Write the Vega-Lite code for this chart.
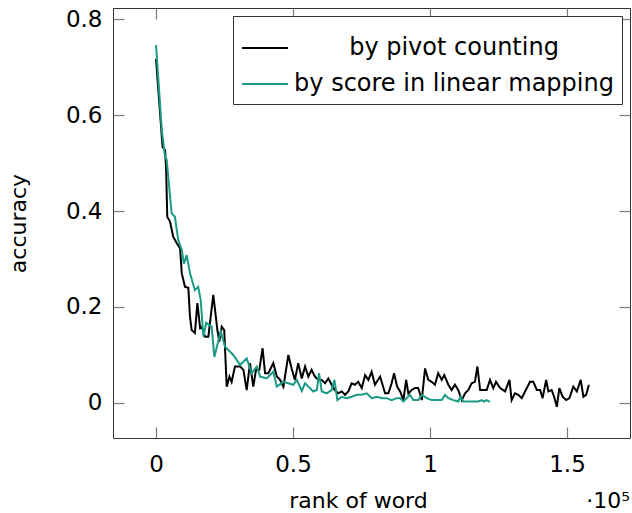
{
  "$schema": "https://vega.github.io/schema/vega-lite/v6.json",
  "width": 517,
  "height": 430,
  "autosize": "none",
  "padding": {"left": 113, "top": 8, "right": 2, "bottom": 75},
  "config": {
    "font": "DejaVu Sans",
    "view": {"stroke": "#333333", "strokeWidth": 1},
    "axis": {"grid": false, "domain": true, "domainOpacity": 0, "tickColor": "#7a7a7a", "tickSize": 11, "tickWidth": 1.2, "offset": -11, "labelFont": "DejaVu Sans", "titleFont": "DejaVu Sans", "labelFontSize": 23, "titleFontSize": 22, "labelColor": "#000", "titleColor": "#000", "titleFontWeight": "normal"}
  },
  "data": {"values": [
    {"method": "by pivot counting", "rank": 0, "accuracy": 0.717},
    {"method": "by pivot counting", "rank": 2400, "accuracy": 0.533},
    {"method": "by pivot counting", "rank": 3300, "accuracy": 0.527},
    {"method": "by pivot counting", "rank": 3700, "accuracy": 0.485},
    {"method": "by pivot counting", "rank": 4100, "accuracy": 0.388},
    {"method": "by pivot counting", "rank": 5100, "accuracy": 0.378},
    {"method": "by pivot counting", "rank": 6300, "accuracy": 0.346},
    {"method": "by pivot counting", "rank": 7600, "accuracy": 0.333},
    {"method": "by pivot counting", "rank": 8800, "accuracy": 0.322},
    {"method": "by pivot counting", "rank": 9400, "accuracy": 0.27},
    {"method": "by pivot counting", "rank": 10600, "accuracy": 0.242},
    {"method": "by pivot counting", "rank": 11800, "accuracy": 0.24},
    {"method": "by pivot counting", "rank": 12400, "accuracy": 0.18},
    {"method": "by pivot counting", "rank": 13000, "accuracy": 0.152},
    {"method": "by pivot counting", "rank": 14200, "accuracy": 0.146},
    {"method": "by pivot counting", "rank": 15100, "accuracy": 0.208},
    {"method": "by pivot counting", "rank": 16100, "accuracy": 0.156},
    {"method": "by pivot counting", "rank": 16700, "accuracy": 0.159},
    {"method": "by pivot counting", "rank": 17900, "accuracy": 0.138},
    {"method": "by pivot counting", "rank": 19100, "accuracy": 0.138},
    {"method": "by pivot counting", "rank": 20900, "accuracy": 0.225},
    {"method": "by pivot counting", "rank": 22400, "accuracy": 0.152},
    {"method": "by pivot counting", "rank": 23100, "accuracy": 0.128},
    {"method": "by pivot counting", "rank": 24000, "accuracy": 0.159},
    {"method": "by pivot counting", "rank": 24900, "accuracy": 0.152},
    {"method": "by pivot counting", "rank": 25800, "accuracy": 0.034},
    {"method": "by pivot counting", "rank": 26800, "accuracy": 0.055},
    {"method": "by pivot counting", "rank": 27600, "accuracy": 0.044},
    {"method": "by pivot counting", "rank": 28800, "accuracy": 0.076},
    {"method": "by pivot counting", "rank": 30700, "accuracy": 0.076},
    {"method": "by pivot counting", "rank": 31900, "accuracy": 0.069},
    {"method": "by pivot counting", "rank": 33100, "accuracy": 0.027},
    {"method": "by pivot counting", "rank": 34300, "accuracy": 0.083},
    {"method": "by pivot counting", "rank": 35500, "accuracy": 0.034},
    {"method": "by pivot counting", "rank": 36500, "accuracy": 0.069},
    {"method": "by pivot counting", "rank": 37700, "accuracy": 0.069},
    {"method": "by pivot counting", "rank": 38900, "accuracy": 0.114},
    {"method": "by pivot counting", "rank": 39800, "accuracy": 0.062},
    {"method": "by pivot counting", "rank": 41000, "accuracy": 0.062},
    {"method": "by pivot counting", "rank": 42800, "accuracy": 0.083},
    {"method": "by pivot counting", "rank": 44100, "accuracy": 0.055},
    {"method": "by pivot counting", "rank": 45300, "accuracy": 0.048},
    {"method": "by pivot counting", "rank": 46500, "accuracy": 0.034},
    {"method": "by pivot counting", "rank": 48300, "accuracy": 0.1},
    {"method": "by pivot counting", "rank": 49500, "accuracy": 0.072},
    {"method": "by pivot counting", "rank": 50700, "accuracy": 0.048},
    {"method": "by pivot counting", "rank": 51900, "accuracy": 0.083},
    {"method": "by pivot counting", "rank": 53200, "accuracy": 0.051},
    {"method": "by pivot counting", "rank": 54400, "accuracy": 0.076},
    {"method": "by pivot counting", "rank": 55600, "accuracy": 0.055},
    {"method": "by pivot counting", "rank": 56800, "accuracy": 0.069},
    {"method": "by pivot counting", "rank": 58000, "accuracy": 0.055},
    {"method": "by pivot counting", "rank": 59200, "accuracy": 0.048},
    {"method": "by pivot counting", "rank": 60500, "accuracy": 0.048},
    {"method": "by pivot counting", "rank": 61700, "accuracy": 0.041},
    {"method": "by pivot counting", "rank": 62900, "accuracy": 0.051},
    {"method": "by pivot counting", "rank": 64100, "accuracy": 0.038},
    {"method": "by pivot counting", "rank": 65300, "accuracy": 0.027},
    {"method": "by pivot counting", "rank": 66500, "accuracy": 0.02},
    {"method": "by pivot counting", "rank": 67800, "accuracy": 0.024},
    {"method": "by pivot counting", "rank": 69000, "accuracy": 0.017},
    {"method": "by pivot counting", "rank": 70200, "accuracy": 0.024},
    {"method": "by pivot counting", "rank": 71400, "accuracy": 0.041},
    {"method": "by pivot counting", "rank": 72600, "accuracy": 0.038},
    {"method": "by pivot counting", "rank": 73800, "accuracy": 0.044},
    {"method": "by pivot counting", "rank": 75100, "accuracy": 0.031},
    {"method": "by pivot counting", "rank": 76300, "accuracy": 0.058},
    {"method": "by pivot counting", "rank": 77500, "accuracy": 0.048},
    {"method": "by pivot counting", "rank": 78700, "accuracy": 0.065},
    {"method": "by pivot counting", "rank": 79900, "accuracy": 0.038},
    {"method": "by pivot counting", "rank": 81800, "accuracy": 0.055},
    {"method": "by pivot counting", "rank": 83600, "accuracy": 0.02},
    {"method": "by pivot counting", "rank": 84800, "accuracy": 0.02},
    {"method": "by pivot counting", "rank": 86000, "accuracy": 0.041},
    {"method": "by pivot counting", "rank": 86900, "accuracy": 0.062},
    {"method": "by pivot counting", "rank": 88000, "accuracy": 0.034},
    {"method": "by pivot counting", "rank": 89100, "accuracy": 0.024},
    {"method": "by pivot counting", "rank": 90300, "accuracy": 0.006},
    {"method": "by pivot counting", "rank": 91300, "accuracy": 0.048},
    {"method": "by pivot counting", "rank": 92100, "accuracy": 0.02},
    {"method": "by pivot counting", "rank": 93300, "accuracy": 0.027},
    {"method": "by pivot counting", "rank": 94500, "accuracy": 0.031},
    {"method": "by pivot counting", "rank": 95700, "accuracy": 0.031},
    {"method": "by pivot counting", "rank": 97000, "accuracy": 0.006},
    {"method": "by pivot counting", "rank": 98200, "accuracy": 0.072},
    {"method": "by pivot counting", "rank": 99400, "accuracy": 0.048},
    {"method": "by pivot counting", "rank": 100600, "accuracy": 0.044},
    {"method": "by pivot counting", "rank": 101800, "accuracy": 0.038},
    {"method": "by pivot counting", "rank": 103000, "accuracy": 0.062},
    {"method": "by pivot counting", "rank": 104300, "accuracy": 0.048},
    {"method": "by pivot counting", "rank": 105200, "accuracy": 0.058},
    {"method": "by pivot counting", "rank": 106700, "accuracy": 0.038},
    {"method": "by pivot counting", "rank": 107900, "accuracy": 0.027},
    {"method": "by pivot counting", "rank": 109100, "accuracy": 0.038},
    {"method": "by pivot counting", "rank": 110300, "accuracy": 0.027},
    {"method": "by pivot counting", "rank": 111600, "accuracy": 0.006},
    {"method": "by pivot counting", "rank": 112800, "accuracy": 0.02},
    {"method": "by pivot counting", "rank": 114000, "accuracy": 0.027},
    {"method": "by pivot counting", "rank": 115200, "accuracy": 0.041},
    {"method": "by pivot counting", "rank": 116400, "accuracy": 0.044},
    {"method": "by pivot counting", "rank": 117300, "accuracy": 0.076},
    {"method": "by pivot counting", "rank": 118300, "accuracy": 0.027},
    {"method": "by pivot counting", "rank": 119500, "accuracy": 0.027},
    {"method": "by pivot counting", "rank": 120700, "accuracy": 0.027},
    {"method": "by pivot counting", "rank": 121900, "accuracy": 0.048},
    {"method": "by pivot counting", "rank": 123100, "accuracy": 0.031},
    {"method": "by pivot counting", "rank": 124100, "accuracy": 0.044},
    {"method": "by pivot counting", "rank": 125600, "accuracy": 0.031},
    {"method": "by pivot counting", "rank": 127400, "accuracy": 0.024},
    {"method": "by pivot counting", "rank": 129000, "accuracy": 0.048},
    {"method": "by pivot counting", "rank": 129800, "accuracy": 0.006},
    {"method": "by pivot counting", "rank": 131000, "accuracy": 0.02},
    {"method": "by pivot counting", "rank": 132200, "accuracy": 0.017},
    {"method": "by pivot counting", "rank": 133500, "accuracy": 0.01},
    {"method": "by pivot counting", "rank": 134700, "accuracy": 0.024},
    {"method": "by pivot counting", "rank": 136500, "accuracy": 0.044},
    {"method": "by pivot counting", "rank": 137700, "accuracy": 0.044},
    {"method": "by pivot counting", "rank": 139000, "accuracy": 0.027},
    {"method": "by pivot counting", "rank": 140200, "accuracy": 0.027},
    {"method": "by pivot counting", "rank": 141100, "accuracy": 0.01},
    {"method": "by pivot counting", "rank": 142400, "accuracy": 0.048},
    {"method": "by pivot counting", "rank": 143200, "accuracy": 0.024},
    {"method": "by pivot counting", "rank": 144400, "accuracy": 0.027},
    {"method": "by pivot counting", "rank": 145300, "accuracy": 0.013},
    {"method": "by pivot counting", "rank": 146300, "accuracy": -0.008},
    {"method": "by pivot counting", "rank": 147200, "accuracy": 0.031},
    {"method": "by pivot counting", "rank": 148400, "accuracy": 0.013},
    {"method": "by pivot counting", "rank": 149700, "accuracy": 0.006},
    {"method": "by pivot counting", "rank": 150900, "accuracy": 0.01},
    {"method": "by pivot counting", "rank": 152300, "accuracy": 0.034},
    {"method": "by pivot counting", "rank": 153600, "accuracy": 0.024},
    {"method": "by pivot counting", "rank": 155000, "accuracy": 0.048},
    {"method": "by pivot counting", "rank": 156000, "accuracy": 0.013},
    {"method": "by pivot counting", "rank": 157000, "accuracy": 0.017},
    {"method": "by pivot counting", "rank": 158000, "accuracy": 0.038},
    {"method": "by score in linear mapping", "rank": 0, "accuracy": 0.746},
    {"method": "by score in linear mapping", "rank": 2100, "accuracy": 0.569},
    {"method": "by score in linear mapping", "rank": 3300, "accuracy": 0.513},
    {"method": "by score in linear mapping", "rank": 3900, "accuracy": 0.506},
    {"method": "by score in linear mapping", "rank": 5700, "accuracy": 0.395},
    {"method": "by score in linear mapping", "rank": 6900, "accuracy": 0.388},
    {"method": "by score in linear mapping", "rank": 8100, "accuracy": 0.34},
    {"method": "by score in linear mapping", "rank": 9400, "accuracy": 0.319},
    {"method": "by score in linear mapping", "rank": 10200, "accuracy": 0.29},
    {"method": "by score in linear mapping", "rank": 11200, "accuracy": 0.308},
    {"method": "by score in linear mapping", "rank": 12400, "accuracy": 0.27},
    {"method": "by score in linear mapping", "rank": 14200, "accuracy": 0.235},
    {"method": "by score in linear mapping", "rank": 15400, "accuracy": 0.242},
    {"method": "by score in linear mapping", "rank": 16300, "accuracy": 0.215},
    {"method": "by score in linear mapping", "rank": 17300, "accuracy": 0.138},
    {"method": "by score in linear mapping", "rank": 18300, "accuracy": 0.167},
    {"method": "by score in linear mapping", "rank": 20300, "accuracy": 0.159},
    {"method": "by score in linear mapping", "rank": 21300, "accuracy": 0.096},
    {"method": "by score in linear mapping", "rank": 23600, "accuracy": 0.149},
    {"method": "by score in linear mapping", "rank": 25200, "accuracy": 0.117},
    {"method": "by score in linear mapping", "rank": 28200, "accuracy": 0.1},
    {"method": "by score in linear mapping", "rank": 30700, "accuracy": 0.079},
    {"method": "by score in linear mapping", "rank": 33100, "accuracy": 0.093},
    {"method": "by score in linear mapping", "rank": 34900, "accuracy": 0.062},
    {"method": "by score in linear mapping", "rank": 36800, "accuracy": 0.076},
    {"method": "by score in linear mapping", "rank": 38000, "accuracy": 0.055},
    {"method": "by score in linear mapping", "rank": 40400, "accuracy": 0.051},
    {"method": "by score in linear mapping", "rank": 42800, "accuracy": 0.065},
    {"method": "by score in linear mapping", "rank": 44100, "accuracy": 0.034},
    {"method": "by score in linear mapping", "rank": 46500, "accuracy": 0.044},
    {"method": "by score in linear mapping", "rank": 48300, "accuracy": 0.041},
    {"method": "by score in linear mapping", "rank": 50100, "accuracy": 0.038},
    {"method": "by score in linear mapping", "rank": 51400, "accuracy": 0.048},
    {"method": "by score in linear mapping", "rank": 53200, "accuracy": 0.025},
    {"method": "by score in linear mapping", "rank": 54400, "accuracy": 0.041},
    {"method": "by score in linear mapping", "rank": 56200, "accuracy": 0.031},
    {"method": "by score in linear mapping", "rank": 57400, "accuracy": 0.024},
    {"method": "by score in linear mapping", "rank": 58700, "accuracy": 0.027},
    {"method": "by score in linear mapping", "rank": 59500, "accuracy": 0.062},
    {"method": "by score in linear mapping", "rank": 60500, "accuracy": 0.024},
    {"method": "by score in linear mapping", "rank": 62300, "accuracy": 0.02},
    {"method": "by score in linear mapping", "rank": 64100, "accuracy": 0.027},
    {"method": "by score in linear mapping", "rank": 65100, "accuracy": 0.048},
    {"method": "by score in linear mapping", "rank": 66200, "accuracy": 0.006},
    {"method": "by score in linear mapping", "rank": 67800, "accuracy": 0.013},
    {"method": "by score in linear mapping", "rank": 69600, "accuracy": 0.01},
    {"method": "by score in linear mapping", "rank": 71400, "accuracy": 0.013},
    {"method": "by score in linear mapping", "rank": 73300, "accuracy": 0.017},
    {"method": "by score in linear mapping", "rank": 75100, "accuracy": 0.017},
    {"method": "by score in linear mapping", "rank": 76900, "accuracy": 0.02},
    {"method": "by score in linear mapping", "rank": 78700, "accuracy": 0.01},
    {"method": "by score in linear mapping", "rank": 80600, "accuracy": 0.013},
    {"method": "by score in linear mapping", "rank": 82400, "accuracy": 0.01},
    {"method": "by score in linear mapping", "rank": 84200, "accuracy": 0.01},
    {"method": "by score in linear mapping", "rank": 86000, "accuracy": 0.006},
    {"method": "by score in linear mapping", "rank": 87900, "accuracy": 0.01},
    {"method": "by score in linear mapping", "rank": 89100, "accuracy": 0.01},
    {"method": "by score in linear mapping", "rank": 90300, "accuracy": 0.003},
    {"method": "by score in linear mapping", "rank": 91500, "accuracy": 0.01},
    {"method": "by score in linear mapping", "rank": 92700, "accuracy": 0.017},
    {"method": "by score in linear mapping", "rank": 93900, "accuracy": 0.006},
    {"method": "by score in linear mapping", "rank": 95700, "accuracy": 0.006},
    {"method": "by score in linear mapping", "rank": 97000, "accuracy": 0.017},
    {"method": "by score in linear mapping", "rank": 98800, "accuracy": 0.01},
    {"method": "by score in linear mapping", "rank": 100600, "accuracy": 0.006},
    {"method": "by score in linear mapping", "rank": 102500, "accuracy": 0.006},
    {"method": "by score in linear mapping", "rank": 104300, "accuracy": 0.006},
    {"method": "by score in linear mapping", "rank": 105500, "accuracy": 0.017},
    {"method": "by score in linear mapping", "rank": 106700, "accuracy": 0.01},
    {"method": "by score in linear mapping", "rank": 108500, "accuracy": 0.006},
    {"method": "by score in linear mapping", "rank": 110300, "accuracy": 0.003},
    {"method": "by score in linear mapping", "rank": 111200, "accuracy": 0.013},
    {"method": "by score in linear mapping", "rank": 112100, "accuracy": 0.003},
    {"method": "by score in linear mapping", "rank": 114000, "accuracy": 0.003},
    {"method": "by score in linear mapping", "rank": 115800, "accuracy": 0.003},
    {"method": "by score in linear mapping", "rank": 117600, "accuracy": 0.003},
    {"method": "by score in linear mapping", "rank": 118900, "accuracy": 0.006},
    {"method": "by score in linear mapping", "rank": 119700, "accuracy": 0.003},
    {"method": "by score in linear mapping", "rank": 120700, "accuracy": 0.006},
    {"method": "by score in linear mapping", "rank": 121900, "accuracy": 0.002}
  ]},
  "layer": [
    {
      "mark": {"type": "line", "strokeWidth": 2, "clip": true},
      "encoding": {
        "x": {"field": "rank", "type": "quantitative",
              "scale": {"domain": [-15700, 173000], "nice": false, "zero": false},
              "axis": {"orient": "bottom", "values": [0, 50000, 100000, 150000], "labelExpr": "datum.value / 100000 + ''", "labelPadding": 15, "title": "rank of word", "titleX": 245, "titleY": 80, "titleBaseline": "alphabetic", "titleAnchor": null}},
        "y": {"field": "accuracy", "type": "quantitative",
              "scale": {"domain": [-0.073, 0.823], "nice": false, "zero": false},
              "axis": {"orient": "left", "values": [0, 0.2, 0.4, 0.6, 0.8], "labelExpr": "datum.value == 0 ? '0' : format(datum.value, '.1f')", "labelPadding": 11, "title": "accuracy", "titleX": -99, "titleY": 215, "titleBaseline": "alphabetic", "titleAngle": 270}},
        "color": {"field": "method", "type": "nominal",
                  "scale": {"domain": ["by pivot counting", "by score in linear mapping"], "range": ["#000000", "#1a9a86"]},
                  "legend": {"title": null, "orient": "top-right", "offset": 8, "fillColor": "#ffffff", "strokeColor": "#333333", "padding": 8, "symbolType": "stroke", "symbolSize": 2116, "symbolStrokeWidth": 2, "labelFontSize": 24, "labelFont": "DejaVu Sans", "labelColor": "#000", "labelAlign": "center", "labelOffset": 165, "rowPadding": 0, "labelLimit": 400}}
      }
    },
    {
      "mark": {"type": "line", "strokeOpacity": 0},
      "encoding": {
        "x": {"field": "rank", "type": "quantitative",
              "axis": {"orient": "top", "values": [0, 50000, 100000, 150000], "labels": false, "title": null}},
        "y": {"field": "accuracy", "type": "quantitative",
              "axis": {"orient": "right", "values": [0, 0.2, 0.4, 0.6, 0.8], "labels": false, "title": null}},
        "detail": {"field": "method", "type": "nominal"}
      }
    },
    {
      "data": {"values": [{"label": "·10⁵", "rank": 173000, "accuracy": -0.219}]},
      "mark": {"type": "text", "align": "right", "baseline": "alphabetic", "fontSize": 22, "font": "DejaVu Sans", "color": "#000"},
      "encoding": {
        "x": {"field": "rank", "type": "quantitative", "axis": null},
        "y": {"field": "accuracy", "type": "quantitative", "axis": null},
        "text": {"field": "label", "type": "nominal"}
      }
    }
  ],
  "resolve": {"axis": {"x": "independent", "y": "independent"}}
}
